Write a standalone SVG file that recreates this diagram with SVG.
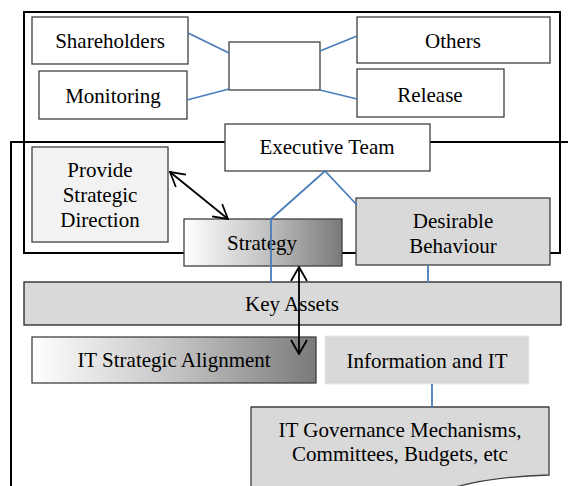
<svg xmlns="http://www.w3.org/2000/svg" width="568" height="486" viewBox="0 0 568 486">
<style>
text{font-family:"Liberation Serif","Times New Roman",serif;font-size:21px;fill:#000;text-anchor:middle}
.frame{fill:none;stroke:#000;stroke-width:2}
.box{fill:#fff;stroke:#404040;stroke-width:1.3}
.grey{fill:#d9d9d9;stroke:#404040;stroke-width:1.3}
.blue{stroke:#4a7ebb;stroke-width:1.8;fill:none}
.arr{stroke:#000;stroke-width:1.8;fill:none;marker-start:url(#ah);marker-end:url(#ah)}
</style>
<defs>
<linearGradient id="g" x1="0" y1="0" x2="1" y2="0">
<stop offset="0" stop-color="#ffffff"/>
<stop offset="0.5" stop-color="#c4c4c4"/>
<stop offset="1" stop-color="#7a7a7a"/>
</linearGradient>
<marker id="ah" viewBox="0 0 16 18" refX="15" refY="9" markerWidth="16" markerHeight="18" markerUnits="userSpaceOnUse" orient="auto-start-reverse">
<path d="M1,1 L15,9 L1,17" fill="none" stroke="#000" stroke-width="1.8"/>
</marker>
</defs>
<g id="frames">
<rect class="frame" x="24" y="12" width="536" height="241"/>
<polyline class="frame" points="11,487 11,142 568,142"/>
</g>
<g id="shareholders"><rect class="box" x="32" y="17" width="156" height="47"/><text x="110" y="48">Shareholders</text></g>
<g id="monitoring"><rect class="box" x="39" y="71" width="148" height="48"/><text x="113" y="103">Monitoring</text></g>
<g id="hub"><rect class="box" x="229" y="42" width="91" height="48"/></g>
<g id="others"><rect class="box" x="357" y="17" width="193" height="46"/><text x="453" y="48">Others</text></g>
<g id="release"><rect class="box" x="357" y="69" width="147" height="48"/><text x="430" y="102">Release</text></g>
<g id="executive"><rect class="box" x="225" y="124" width="205" height="47"/><text x="327" y="154">Executive Team</text></g>
<g id="provide"><rect class="box" x="32" y="147" width="136" height="95" style="fill:#f2f2f2"/><text x="100" y="177">Provide</text><text x="100" y="202">Strategic</text><text x="100" y="227">Direction</text></g>
<g id="strategy"><rect class="box" x="184" y="219" width="158" height="47" style="fill:url(#g)"/><text x="262" y="250">Strategy</text></g>
<g id="desirable"><rect class="grey" x="356" y="198" width="194" height="67"/><text x="453" y="228">Desirable</text><text x="453" y="253">Behaviour</text></g>
<g id="keyassets"><rect class="grey" x="24" y="282" width="537" height="43" style="stroke:#222"/><text x="292" y="311">Key Assets</text></g>
<g id="itstrategic"><rect class="box" x="32" y="337" width="284" height="46" style="fill:url(#g)"/><text x="174" y="367">IT Strategic Alignment</text></g>
<g id="infoit"><rect x="325" y="336" width="204" height="48" fill="#d9d9d9" stroke="#ececec" stroke-width="1"/><text x="427" y="368">Information and IT</text></g>
<g id="itgov"><path d="M251,492 V407 H549 V475 C512,476 470,481 440,492 Z" fill="#d9d9d9" stroke="#404040" stroke-width="1.3"/><text x="400" y="437">IT Governance Mechanisms,</text><text x="400" y="461">Committees, Budgets, etc</text></g>
<g id="connectors">
<line class="blue" x1="188" y1="33" x2="229" y2="53"/>
<line class="blue" x1="187" y1="100" x2="229" y2="89"/>
<line class="blue" x1="320" y1="51" x2="357" y2="36"/>
<line class="blue" x1="320" y1="90" x2="357" y2="99"/>
<polyline class="blue" points="271,283 271,219 325,171 357,205"/>
<line class="blue" x1="428" y1="265" x2="428" y2="283"/>
<line class="blue" x1="432" y1="384" x2="432" y2="407"/>
<line class="arr" x1="170" y1="172" x2="228" y2="219"/>
<line class="arr" x1="299" y1="267" x2="299" y2="354"/>
</g>
</svg>
